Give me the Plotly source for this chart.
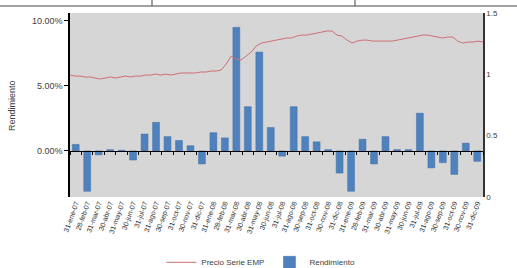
import numpy as np
import plotly.graph_objects as go

meses = ["ene", "feb", "mar", "abr", "may", "jun", "jul", "ago", "sep", "oct", "nov", "dic"]
dias = [31, 28, 31, 30, 31, 30, 31, 31, 30, 31, 30, 31]
categorias = [f"{d}-{m}-{a}" for a in ["07", "08", "09"] for m, d in zip(meses, dias)]

rendimiento = [0.5, -3.1, -0.3, 0.1, 0.05, -0.7, 1.3, 2.2, 1.1, 0.8, 0.4, -1.0,
               1.4, 1.0, 9.5, 3.4, 7.6, 1.8, -0.4, 3.4, 1.1, 0.7, 0.1, -1.7,
               -3.1, 0.9, -1.0, 1.1, 0.1, 0.1, 2.9, -1.3, -0.9, -1.8, 0.6, -0.8]

precio = [0.994, 0.986, 0.986, 0.978, 0.978, 0.970, 0.962, 0.970, 0.978, 0.970,
          0.978, 0.986, 0.978, 0.986, 0.986, 0.994, 0.994, 1.002, 0.994, 1.002,
          0.994, 1.002, 1.011, 1.011, 1.011, 1.011, 1.019, 1.019, 1.027, 1.027,
          1.035, 1.084, 1.149, 1.125, 1.117, 1.149, 1.182, 1.231, 1.255, 1.263,
          1.271, 1.279, 1.288, 1.296, 1.296, 1.312, 1.320, 1.320, 1.328, 1.337,
          1.345, 1.353, 1.353, 1.320, 1.312, 1.279, 1.255, 1.271, 1.279, 1.279,
          1.271, 1.271, 1.271, 1.271, 1.271, 1.279, 1.288, 1.296, 1.304, 1.312,
          1.320, 1.320, 1.312, 1.304, 1.296, 1.304, 1.304, 1.271, 1.255, 1.263,
          1.263, 1.271, 1.263]

n_cat = len(categorias)
x_precio = np.linspace(-0.5, n_cat - 0.5, len(precio))

fig = go.Figure()
fig.add_trace(go.Scatter(
    x=x_precio, y=precio, xaxis="x2", yaxis="y2", mode="lines",
    name="Precio Serie EMP", line=dict(color="#cf7073", width=1),
))
fig.add_trace(go.Bar(
    x=categorias, y=[v / 100 for v in rendimiento], name="Rendimiento",
    marker=dict(color="#4f81bd", line=dict(color="#3f6fa8", width=0.5)),
))

px2x = lambda px: (px - 70) / 413
px2y = lambda py: (197 - py) / 184
shape_line = dict(color="#444444", width=1)
shapes = [
    dict(type="line", xref="paper", yref="paper", x0=px2x(0), x1=px2x(517), y0=px2y(6), y1=px2y(6), line=shape_line),
    dict(type="line", xref="paper", yref="paper", x0=px2x(152), x1=px2x(152), y0=px2y(0), y1=px2y(6), line=shape_line),
    dict(type="line", xref="paper", yref="paper", x0=px2x(355), x1=px2x(355), y0=px2y(0), y1=px2y(6), line=shape_line),
]

txt = "#404040"
fig.update_layout(
    width=517, height=268,
    margin=dict(l=70, r=34, t=13, b=71, autoexpand=False),
    paper_bgcolor="white", plot_bgcolor="#d6d6d6",
    font=dict(family="Liberation Sans", size=8, color=txt),
    bargap=0.4,
    showlegend=True,
    legend=dict(orientation="h", x=0.462, xanchor="center", y=-0.355, yanchor="middle",
                font=dict(family="Liberation Sans", size=8, color=txt),
                traceorder="normal", tracegroupgap=0, itemwidth=30),
    xaxis=dict(type="category", showgrid=False, ticks="", tickangle=-70, automargin=False,
               tickfont=dict(size=7, color="#303030"), showline=False,
               range=[-0.5, n_cat - 0.5]),
    xaxis2=dict(overlaying="x", anchor="free", position=0.25, range=[-0.5, n_cat - 0.5],
                showgrid=False, showticklabels=False, ticks="outside", ticklen=3,
                tickcolor="black", tickmode="linear", tick0=0.5, dtick=1, automargin=False,
                showline=True, linecolor="black", linewidth=1, zeroline=False),
    yaxis=dict(range=[-0.0354, 0.106], tickvals=[0, 0.05, 0.10], tickformat=".2%",
               showgrid=False, zeroline=False, showline=True, linecolor="black",
               linewidth=1.5, ticks="outside", ticklen=4, tickcolor="black", automargin=False,
               tickfont=dict(size=9, color=txt)),
    yaxis2=dict(overlaying="y", side="right", anchor="x", range=[0, 1.5],
                tickvals=[0, 0.5, 1, 1.5], ticktext=["0", "0.5", "1", "1.5"], automargin=False,
                showgrid=False, zeroline=False, showline=True, linecolor="#333333",
                linewidth=1.5, ticks="", tickfont=dict(size=8, color=txt)),
    shapes=shapes,
    annotations=[dict(text="Rendimiento", xref="paper", yref="paper",
                      x=px2x(12), y=px2y(106), textangle=-90, showarrow=False,
                      xanchor="center", yanchor="middle",
                      font=dict(size=9, color=txt))],
)

fig.write_html("out.html", post_script="document.body.style.margin='0px';",
               config={"displayModeBar": False})
